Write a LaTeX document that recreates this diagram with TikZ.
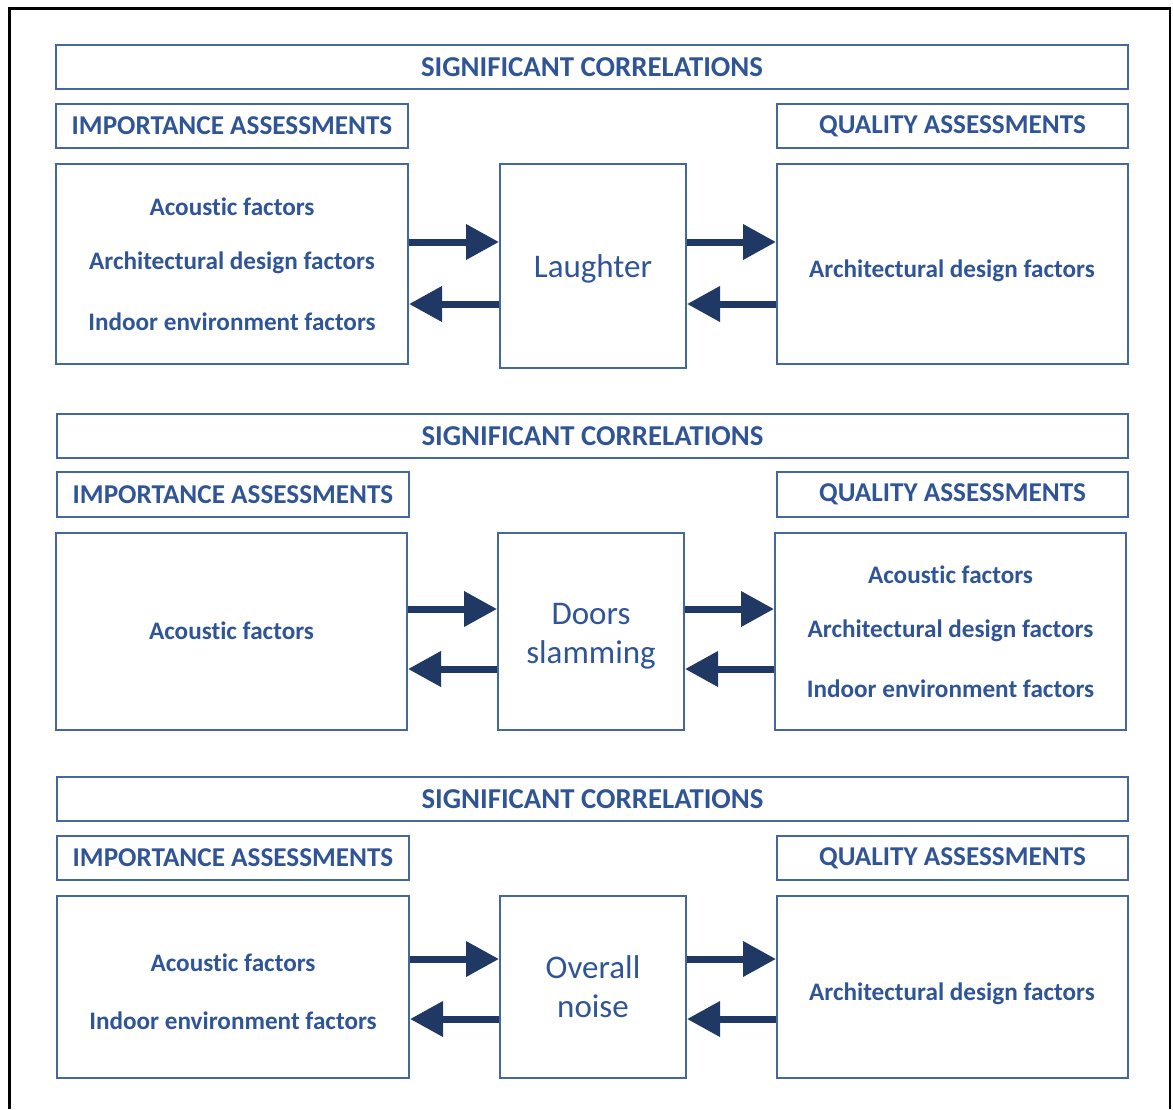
\documentclass[tikz,border=0pt]{standalone}
\usepackage{fontspec}
\setmainfont{Carlito}[Ligatures=NoCommon]
\usetikzlibrary{arrows.meta,fit}
\definecolor{txtblue}{HTML}{2F5597}
\definecolor{edgeblue}{HTML}{44679E}
\definecolor{navy}{HTML}{203864}
\tikzset{
  box/.style={draw=edgeblue, line width=1pt, inner sep=0pt},
  head/.style={text=txtblue, font=\bfseries\fontsize{14.4}{16}\selectfont, inner sep=0pt, anchor=center},
  subhead/.style={text=txtblue, font=\bfseries\fontsize{13.6}{16}\selectfont, inner sep=0pt, anchor=center},
  item/.style={text=txtblue, font=\bfseries\fontsize{12.6}{14}\selectfont, anchor=base},
  source/.style={text=txtblue, font=\fontsize{16.5}{19.5}\selectfont, align=center, inner sep=0pt, anchor=center},
  arr/.style={draw=navy, line width=3.5pt, -{Triangle[length=16.5pt,width=17pt,fill=navy]}},
}
\begin{document}
\begin{tikzpicture}[x=0.5pt,y=-0.5pt]
\useasboundingbox (0,0) rectangle (1173,1109);
% outer frame
\draw[black, line width=1.2pt] (9.5,1109) -- (9.5,8.5) -- (1170,8.5) -- (1170,1109);

% ---------- block 1: laughter ----------
\node[box, fit={(56,45) (1128,89)}] (T1) {};
\node[box, fit={(56,104) (408,148)}] (I1) {};
\node[box, fit={(777,104) (1128,148)}] (Q1) {};
\node[box, fit={(56,164) (408,364)}] (L1) {};
\node[box, fit={(500,164) (686,368)}] (M1) {};
\node[box, fit={(777,164) (1128,364)}] (R1) {};
\node[head] (T1t) at (T1.center) {SIGNIFICANT CORRELATIONS};
\node[subhead] (I1t) at (I1.center) {IMPORTANCE ASSESSMENTS};
\node[subhead] (Q1t) at (Q1.center) {QUALITY ASSESSMENTS};
\node[source] (M1t) at ([yshift=-1.5pt]M1.center) {Laughter};
\node[item] (L1a) at (232,215) {Acoustic factors};
\node[item] (L1b) at (232,269) {Architectural design factors};
\node[item] (L1c) at (232,330) {Indoor environment factors};
\node[item] (R1a) at (952,277) {Architectural design factors};
\coordinate (u1) at (0,242);
\coordinate (d1) at (0,304);
\draw[arr] (L1.east |- u1) -- (M1.west |- u1);
\draw[arr] (M1.west |- d1) -- (L1.east |- d1);
\draw[arr] (M1.east |- u1) -- (R1.west |- u1);
\draw[arr] (R1.west |- d1) -- (M1.east |- d1);

% ---------- block 2: doors slamming ----------
\node[box, fit={(57,414) (1128,458)}] (T2) {};
\node[box, fit={(57,472) (409,517)}] (I2) {};
\node[box, fit={(777,472) (1128,517)}] (Q2) {};
\node[box, fit={(56,533) (407,730)}] (L2) {};
\node[box, fit={(498,533) (684,730)}] (M2) {};
\node[box, fit={(775,533) (1126,730)}] (R2) {};
\node[head] (T2t) at (T2.center) {SIGNIFICANT CORRELATIONS};
\node[subhead] (I2t) at (I2.center) {IMPORTANCE ASSESSMENTS};
\node[subhead] (Q2t) at (Q2.center) {QUALITY ASSESSMENTS};
\node[source] (M2t) at ([yshift=-2.5pt]M2.center) {Doors\\slamming};
\node[item] (L2a) at (231.5,639) {Acoustic factors};
\node[item] (R2a) at (950.5,583) {Acoustic factors};
\node[item] (R2b) at (950.5,637) {Architectural design factors};
\node[item] (R2c) at (950.5,697) {Indoor environment factors};
\coordinate (u2) at (0,609);
\coordinate (d2) at (0,669);
\draw[arr] (L2.east |- u2) -- (M2.west |- u2);
\draw[arr] (M2.west |- d2) -- (L2.east |- d2);
\draw[arr] (M2.east |- u2) -- (R2.west |- u2);
\draw[arr] (R2.west |- d2) -- (M2.east |- d2);

% ---------- block 3: overall noise ----------
\node[box, fit={(57,777) (1128,821)}] (T3) {};
\node[box, fit={(57,836) (409,880)}] (I3) {};
\node[box, fit={(777,836) (1128,880)}] (Q3) {};
\node[box, fit={(57,896) (409,1078)}] (L3) {};
\node[box, fit={(500,896) (686,1078)}] (M3) {};
\node[box, fit={(777,896) (1128,1078)}] (R3) {};
\node[head] (T3t) at (T3.center) {SIGNIFICANT CORRELATIONS};
\node[subhead] (I3t) at (I3.center) {IMPORTANCE ASSESSMENTS};
\node[subhead] (Q3t) at (Q3.center) {QUALITY ASSESSMENTS};
\node[source] (M3t) at (M3.center) {Overall\\noise};
\node[item] (L3a) at (233,971) {Acoustic factors};
\node[item] (L3b) at (233,1029) {Indoor environment factors};
\node[item] (R3a) at (952,1000) {Architectural design factors};
\coordinate (u3) at (0,959);
\coordinate (d3) at (0,1019);
\draw[arr] (L3.east |- u3) -- (M3.west |- u3);
\draw[arr] (M3.west |- d3) -- (L3.east |- d3);
\draw[arr] (M3.east |- u3) -- (R3.west |- u3);
\draw[arr] (R3.west |- d3) -- (M3.east |- d3);
\end{tikzpicture}
\end{document}
